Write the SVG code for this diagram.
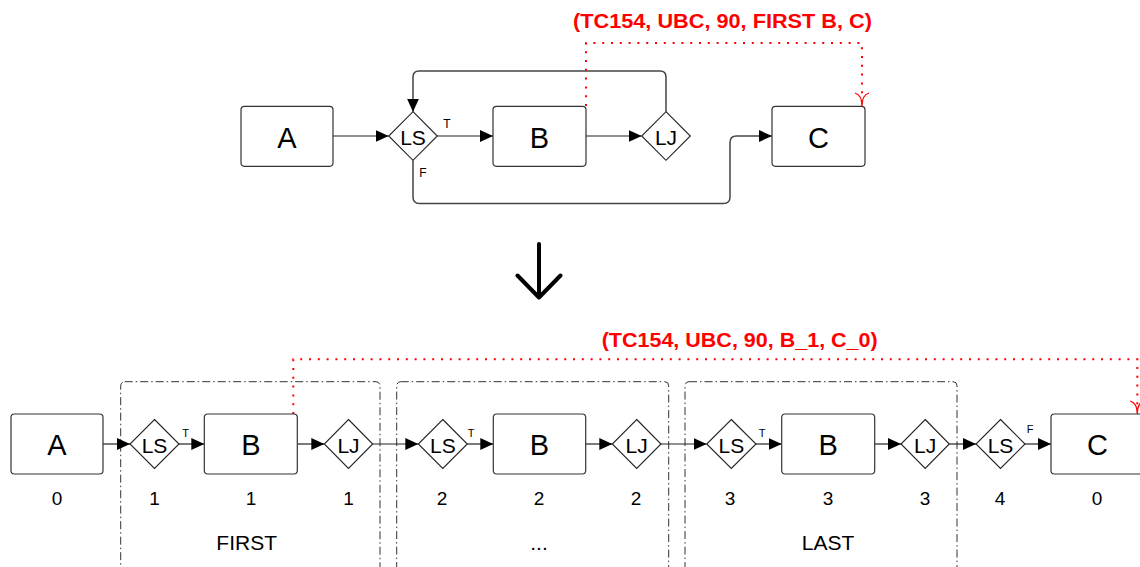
<svg xmlns="http://www.w3.org/2000/svg" width="1140" height="567" viewBox="0 0 1140 567">
<style>
.box{fill:#fff;stroke:#333;stroke-width:1.2}
.dia{fill:#fff;stroke:#222;stroke-width:1.1}
.ln{fill:none;stroke:#222;stroke-width:1.2}
.rt{fill:none;stroke:#444;stroke-width:1.5}
.red{fill:none;stroke:#f00;stroke-width:2;stroke-dasharray:2 6.8}
.redh{fill:none;stroke:#f00;stroke-width:1.3}
.grp{fill:none;stroke:#333;stroke-width:1;stroke-dasharray:8 3 1.5 3}
text{font-family:"Liberation Sans",Arial,sans-serif;fill:#000;text-anchor:middle}
.big{font-size:29px}
.mid{font-size:21px}
.num{font-size:19px}
.sm{font-size:12px}
.xs{font-size:11px}
.rl{font-size:20px;font-weight:bold;fill:#f00}
</style>
<defs>
<marker id="ah" markerUnits="userSpaceOnUse" markerWidth="14" markerHeight="12" refX="13" refY="6" orient="auto">
<path d="M0,0 L13,6 L0,12 z" fill="#000"/>
</marker>
</defs>

<!-- top part -->
<g id="connectors-top">
<line class="ln" x1="333" y1="136" x2="388.7" y2="136" marker-end="url(#ah)"/>
<line class="ln" x1="437.3" y1="136" x2="493" y2="136" marker-end="url(#ah)"/>
<line class="ln" x1="586" y1="136" x2="641.7" y2="136" marker-end="url(#ah)"/>
<path class="rt" d="M666,111.7 V77 Q666,71 660,71 H419 Q413,71 413,77 V111.7" marker-end="url(#ah)"/>
<path class="rt" d="M413,160.3 V197 Q413,203.5 419.5,203.5 H723.5 Q730,203.5 730,197 V142.5 Q730,136 736.5,136 H772" marker-end="url(#ah)"/>
<path class="red" d="M586,106 V43 H862 V100"/>
<path class="redh" d="M855,93 Q862,95 862,106 M869,93 Q862,95 862,106"/>
<text x="447" y="128.3" class="sm">T</text>
<text x="423" y="177.3" class="sm">F</text>
<text x="722.5" y="27.5" class="rl" textLength="299" lengthAdjust="spacingAndGlyphs">(TC154, UBC, 90, FIRST B, C)</text>
</g>
<g id="top-A"><rect class="box" x="241" y="106.3" width="92" height="60" rx="3.5"/><text x="287" y="148.3" class="big">A</text></g>
<g id="top-LS"><polygon class="dia" points="413,111.7 437.3,136 413,160.3 388.7,136"/><text x="413" y="144.5" class="mid">LS</text></g>
<g id="top-B"><rect class="box" x="493" y="106.3" width="93" height="60" rx="3.5"/><text x="539.5" y="148.3" class="big">B</text></g>
<g id="top-LJ"><polygon class="dia" points="666,111.7 690.3,136 666,160.3 641.7,136"/><text x="666" y="144.5" class="mid">LJ</text></g>
<g id="top-C"><rect class="box" x="772" y="106.3" width="93" height="60" rx="3.5"/><text x="818.5" y="148.3" class="big">C</text></g>

<!-- transform arrow -->
<g id="transform-arrow">
<path d="M539,244 V297 M517.5,275.5 L539,297.5 L560.5,275.5" fill="none" stroke="#000" stroke-width="4" stroke-linecap="round" stroke-linejoin="round"/>
</g>

<!-- bottom part -->
<g id="groups">
<rect class="grp" x="120.7" y="381.7" width="259.3" height="230" rx="4"/>
<rect class="grp" x="396.7" y="381.7" width="272" height="230" rx="4"/>
<rect class="grp" x="685" y="381.7" width="272" height="230" rx="4"/>
<text x="246.7" y="550" class="mid">FIRST</text>
<text x="539" y="550" class="mid">...</text>
<text x="828" y="550" class="mid">LAST</text>
</g>
<g id="connectors-bottom">
<line class="ln" x1="103" y1="444" x2="130" y2="444" marker-end="url(#ah)"/>
<line class="ln" x1="179" y1="444" x2="204.3" y2="444" marker-end="url(#ah)"/>
<line class="ln" x1="297.3" y1="444" x2="324.3" y2="444" marker-end="url(#ah)"/>
<line class="ln" x1="372.7" y1="444" x2="418.3" y2="444" marker-end="url(#ah)"/>
<line class="ln" x1="467.3" y1="444" x2="493.3" y2="444" marker-end="url(#ah)"/>
<line class="ln" x1="585.7" y1="444" x2="612.3" y2="444" marker-end="url(#ah)"/>
<line class="ln" x1="661" y1="444" x2="706.7" y2="444" marker-end="url(#ah)"/>
<line class="ln" x1="756" y1="444" x2="781.7" y2="444" marker-end="url(#ah)"/>
<line class="ln" x1="874.7" y1="444" x2="901" y2="444" marker-end="url(#ah)"/>
<line class="ln" x1="949.3" y1="444" x2="976" y2="444" marker-end="url(#ah)"/>
<line class="ln" x1="1025" y1="444" x2="1051" y2="444" marker-end="url(#ah)"/>
<path class="red" d="M293.3,414 V359.3 H1137.3 V408"/>
<path class="redh" d="M1130.3,401 Q1137.3,403 1137.3,414 M1144.3,401 Q1137.3,403 1137.3,414"/>
<text x="185.7" y="436.7" class="xs">T</text>
<text x="471" y="436.7" class="xs">T</text>
<text x="762" y="436.7" class="xs">T</text>
<text x="1030" y="433.3" class="xs">F</text>
<text x="739.7" y="347" class="rl" textLength="276" lengthAdjust="spacingAndGlyphs">(TC154, UBC, 90, B_1, C_0)</text>
</g>
<g id="b-A"><rect class="box" x="11" y="414" width="92" height="60" rx="3.5"/><text x="57" y="455" class="big">A</text><text x="57" y="505.3" class="num">0</text></g>
<g id="b-LS1"><polygon class="dia" points="154.5,419.5 179,444 154.5,468.5 130,444"/><text x="154.5" y="452.7" class="mid">LS</text><text x="154.5" y="505.3" class="num">1</text></g>
<g id="b-B1"><rect class="box" x="204.3" y="414" width="93" height="60" rx="3.5"/><text x="250.8" y="455" class="big">B</text><text x="251" y="505.3" class="num">1</text></g>
<g id="b-LJ1"><polygon class="dia" points="348.5,419.5 372.7,444 348.5,468.5 324.3,444"/><text x="348.5" y="452.7" class="mid">LJ</text><text x="348.5" y="505.3" class="num">1</text></g>
<g id="b-LS2"><polygon class="dia" points="442.8,419.5 467.3,444 442.8,468.5 418.3,444"/><text x="442.8" y="452.7" class="mid">LS</text><text x="442" y="505.3" class="num">2</text></g>
<g id="b-B2"><rect class="box" x="493.3" y="414" width="92.4" height="60" rx="3.5"/><text x="539.5" y="455" class="big">B</text><text x="539" y="505.3" class="num">2</text></g>
<g id="b-LJ2"><polygon class="dia" points="636.7,419.5 661,444 636.7,468.5 612.3,444"/><text x="636.7" y="452.7" class="mid">LJ</text><text x="636" y="505.3" class="num">2</text></g>
<g id="b-LS3"><polygon class="dia" points="731.3,419.5 756,444 731.3,468.5 706.7,444"/><text x="731.3" y="452.7" class="mid">LS</text><text x="730" y="505.3" class="num">3</text></g>
<g id="b-B3"><rect class="box" x="781.7" y="414" width="93" height="60" rx="3.5"/><text x="828.2" y="455" class="big">B</text><text x="828" y="505.3" class="num">3</text></g>
<g id="b-LJ3"><polygon class="dia" points="925.2,419.5 949.3,444 925.2,468.5 901,444"/><text x="925.2" y="452.7" class="mid">LJ</text><text x="925" y="505.3" class="num">3</text></g>
<g id="b-LS4"><polygon class="dia" points="1000.5,419.5 1025,444 1000.5,468.5 976,444"/><text x="1000.5" y="452.7" class="mid">LS</text><text x="1000" y="505.3" class="num">4</text></g>
<g id="b-C"><rect class="box" x="1051" y="414" width="93" height="60" rx="3.5"/><text x="1097.5" y="455" class="big">C</text><text x="1097" y="505.3" class="num">0</text></g>
</svg>
